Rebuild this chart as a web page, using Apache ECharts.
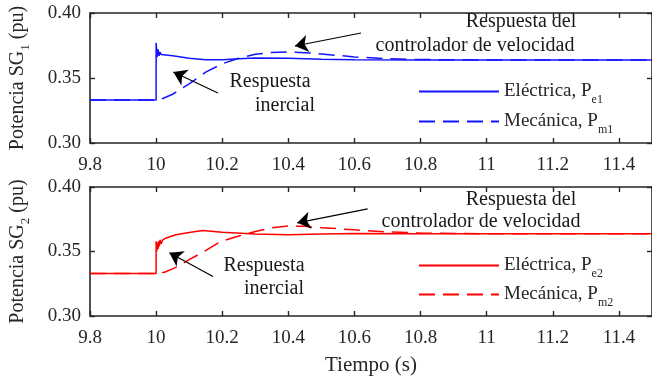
<!DOCTYPE html>
<html>
<head>
<meta charset="utf-8">
<script src="https://cdn.jsdelivr.net/npm/echarts@6/dist/echarts.min.js"></script>
<style>
  html, body { margin: 0; padding: 0; background: #fff; }
  #chart { width: 652px; height: 377px; }
</style>
</head>
<body>
<div id="chart"></div>
<script>
// datos (tiempo en s, potencia en pu)
var tPe1 = [9.8, 10.0, 10.0, 10.003, 10.006, 10.009, 10.012, 10.015, 10.02, 10.05, 10.1, 10.15, 10.2, 10.25, 10.3, 10.4, 10.5, 10.6, 10.8, 11.0, 11.5];
var pe1  = [0.333, 0.333, 0.377, 0.366, 0.372, 0.367, 0.370, 0.368, 0.369, 0.3672, 0.3652, 0.3640, 0.3640, 0.3648, 0.3654, 0.3652, 0.3645, 0.3640, 0.3638, 0.3638, 0.3638];
var tPm1 = [9.8, 10.0, 10.02, 10.05, 10.1, 10.15, 10.2, 10.25, 10.3, 10.35, 10.4, 10.45, 10.5, 10.6, 10.7, 10.8, 11.0, 11.5];
var pm1  = [0.333, 0.333, 0.3342, 0.3375, 0.3455, 0.3545, 0.3610, 0.3652, 0.3683, 0.3697, 0.3700, 0.3695, 0.3685, 0.3662, 0.3648, 0.3642, 0.3638, 0.3638];

var tPe2 = [9.8, 10.0, 10.0, 10.002, 10.004, 10.006, 10.008, 10.010, 10.012, 10.015, 10.02, 10.03, 10.06, 10.1, 10.14, 10.2, 10.3, 10.4, 10.5, 10.6, 10.8, 11.0, 11.5];
var pe2  = [0.333, 0.333, 0.358, 0.350, 0.357, 0.352, 0.358, 0.354, 0.359, 0.356, 0.359, 0.3605, 0.3630, 0.3648, 0.3662, 0.3650, 0.3636, 0.3630, 0.3635, 0.3640, 0.3638, 0.3638, 0.3638];
var tPm2 = [9.8, 10.0, 10.025, 10.05, 10.076, 10.1, 10.146, 10.196, 10.25, 10.3, 10.35, 10.4, 10.45, 10.5, 10.6, 10.7, 10.8, 11.0, 11.5];
var pm2  = [0.333, 0.333, 0.3339, 0.3365, 0.3399, 0.3437, 0.3501, 0.3578, 0.3620, 0.3655, 0.3683, 0.3697, 0.3695, 0.3685, 0.3668, 0.3652, 0.3643, 0.3638, 0.3638];

var xTicks = { min: 9.8, max: 11.5, interval: 0.2 };
var yTicks = { min: 0.30, max: 0.40, interval: 0.05 };

// flechas de anotacion (cola -> punta), en coordenadas de datos
var arrowCtrl1 = [[10.62, 0.3846], [10.42, 0.3746]];
var arrowIner1 = [[10.187, 0.3385], [10.052, 0.3546]];
var arrowCtrl2 = [[10.64, 0.3830], [10.427, 0.3722]];
var arrowIner2 = [[10.172, 0.3306], [10.040, 0.3491]];

var BLUE = '#1414ff';
var RED = '#ff0000';
var INK = '#262626';
var FONT = 'Liberation Serif';

function zip(t, v) {
  return t.map(function (x, i) { return [x, v[i]]; });
}

function arrow(a) {
  return {
    silent: true,
    symbol: ['none', 'arrow'],
    symbolSize: 13,
    label: { show: false },
    lineStyle: { color: '#000', type: 'solid', width: 1.2 },
    data: [[{ coord: a[0] }, { coord: a[1] }]]
  };
}

var subRich = {
  a: { fontFamily: FONT, fontSize: 19, color: INK, lineHeight: 22 },
  s: { fontFamily: FONT, fontSize: 12, color: INK, lineHeight: 12, verticalAlign: 'bottom', padding: [0, 0, -3, 0] }
};

var legendNames = {
  'Pe1': '{a|Eléctrica, P}{s|e1}',
  'Pm1': '{a|Mecánica, P}{s|m1}',
  'Pe2': '{a|Eléctrica, P}{s|e2}',
  'Pm2': '{a|Mecánica, P}{s|m2}'
};

function xAx(grid, pos) {
  return {
    type: 'value', gridIndex: grid, position: pos,
    min: xTicks.min, max: xTicks.max, interval: xTicks.interval,
    axisLine: { show: true, onZero: false, lineStyle: { color: INK, width: 1.6 } },
    axisTick: { show: true, inside: true, length: 5, lineStyle: { color: INK, width: 1.4 } },
    axisLabel: {
      show: pos === 'bottom', showMaxLabel: false, margin: 13,
      fontFamily: FONT, fontSize: 19, color: INK
    },
    splitLine: { show: false }
  };
}

function yAx(grid, pos, name) {
  var ax = {
    type: 'value', gridIndex: grid, position: pos,
    min: yTicks.min, max: yTicks.max, interval: yTicks.interval,
    axisLine: { show: true, onZero: false, lineStyle: { color: INK, width: 1.6 } },
    axisTick: { show: true, inside: true, length: 5, lineStyle: { color: INK, width: 1.4 } },
    axisLabel: {
      show: pos === 'left', margin: 9,
      fontFamily: FONT, fontSize: 19, color: INK,
      formatter: function (v) { return v.toFixed(2); }
    },
    splitLine: { show: false }
  };
  if (name) {
    ax.name = name;
    ax.nameLocation = 'middle';
    ax.nameGap = 61;
    ax.nameRotate = 90;
    ax.nameTextStyle = { rich: {
      a: { fontFamily: FONT, fontSize: 20, color: INK, lineHeight: 22 },
      s: { fontFamily: FONT, fontSize: 13, color: INK, lineHeight: 13, verticalAlign: 'bottom', padding: [0, 0, -3, 0] }
    } };
  }
  return ax;
}

var xAxes = [xAx(0, 'bottom'), xAx(0, 'top'), xAx(1, 'bottom'), xAx(1, 'top')];
xAxes[2].name = 'Tiempo (s)';
xAxes[2].nameLocation = 'middle';
xAxes[2].nameGap = 39;
xAxes[2].nameTextStyle = { fontFamily: FONT, fontSize: 21, color: INK };

function txt(x, y, s) {
  return {
    type: 'text', x: x, y: y, silent: true,
    style: { text: s, fontFamily: FONT, fontSize: 20, fill: '#1a1a1a', align: 'center', verticalAlign: 'middle' }
  };
}

function leg(name, top) {
  return {
    data: [name], left: 418, top: top, padding: 0,
    itemWidth: 80, itemHeight: 14, itemGap: 0,
    selectedMode: false,
    itemStyle: { opacity: 0 },
    formatter: function (n) { return legendNames[n]; },
    textStyle: { rich: subRich }
  };
}

var chart = echarts.init(document.getElementById('chart'), null, { renderer: 'canvas' });
chart.setOption({
  animation: false,
  grid: [
    { left: 88, top: 13, width: 567, height: 130 },
    { left: 88, top: 187, width: 567, height: 130 }
  ],
  xAxis: xAxes,
  yAxis: [
    yAx(0, 'left', '{a|Potencia SG}{s|1}{a| (pu)}'), yAx(0, 'right'),
    yAx(1, 'left', '{a|Potencia SG}{s|2}{a| (pu)}'), yAx(1, 'right')
  ],
  legend: [leg('Pe1', 82), leg('Pm1', 112), leg('Pe2', 256), leg('Pm2', 285)],
  series: [
    { name: 'Pe1', type: 'line', xAxisIndex: 0, yAxisIndex: 0, data: zip(tPe1, pe1),
      symbol: 'none', lineStyle: { color: BLUE, width: 1.5 }, itemStyle: { color: BLUE },
      markLine: arrow(arrowIner1) },
    { name: 'Pm1', type: 'line', xAxisIndex: 0, yAxisIndex: 0, data: zip(tPm1, pm1),
      symbol: 'none', lineStyle: { color: BLUE, width: 1.5, type: [16, 8] }, itemStyle: { color: BLUE },
      markLine: arrow(arrowCtrl1) },
    { name: 'Pe2', type: 'line', xAxisIndex: 2, yAxisIndex: 2, data: zip(tPe2, pe2),
      symbol: 'none', lineStyle: { color: RED, width: 1.5 }, itemStyle: { color: RED },
      markLine: arrow(arrowIner2) },
    { name: 'Pm2', type: 'line', xAxisIndex: 2, yAxisIndex: 2, data: zip(tPm2, pm2),
      symbol: 'none', lineStyle: { color: RED, width: 1.5, type: [16, 8] }, itemStyle: { color: RED },
      markLine: arrow(arrowCtrl2) }
  ],
  graphic: [
    txt(521, 22, 'Respuesta del'),
    txt(475, 46, 'controlador de velocidad'),
    txt(270, 82, 'Respuesta'),
    txt(285, 106, 'inercial'),
    txt(521, 200, 'Respuesta del'),
    txt(481, 222, 'controlador de velocidad'),
    txt(264, 266, 'Respuesta'),
    txt(274, 289, 'inercial')
  ]
});
</script>
</body>
</html>
